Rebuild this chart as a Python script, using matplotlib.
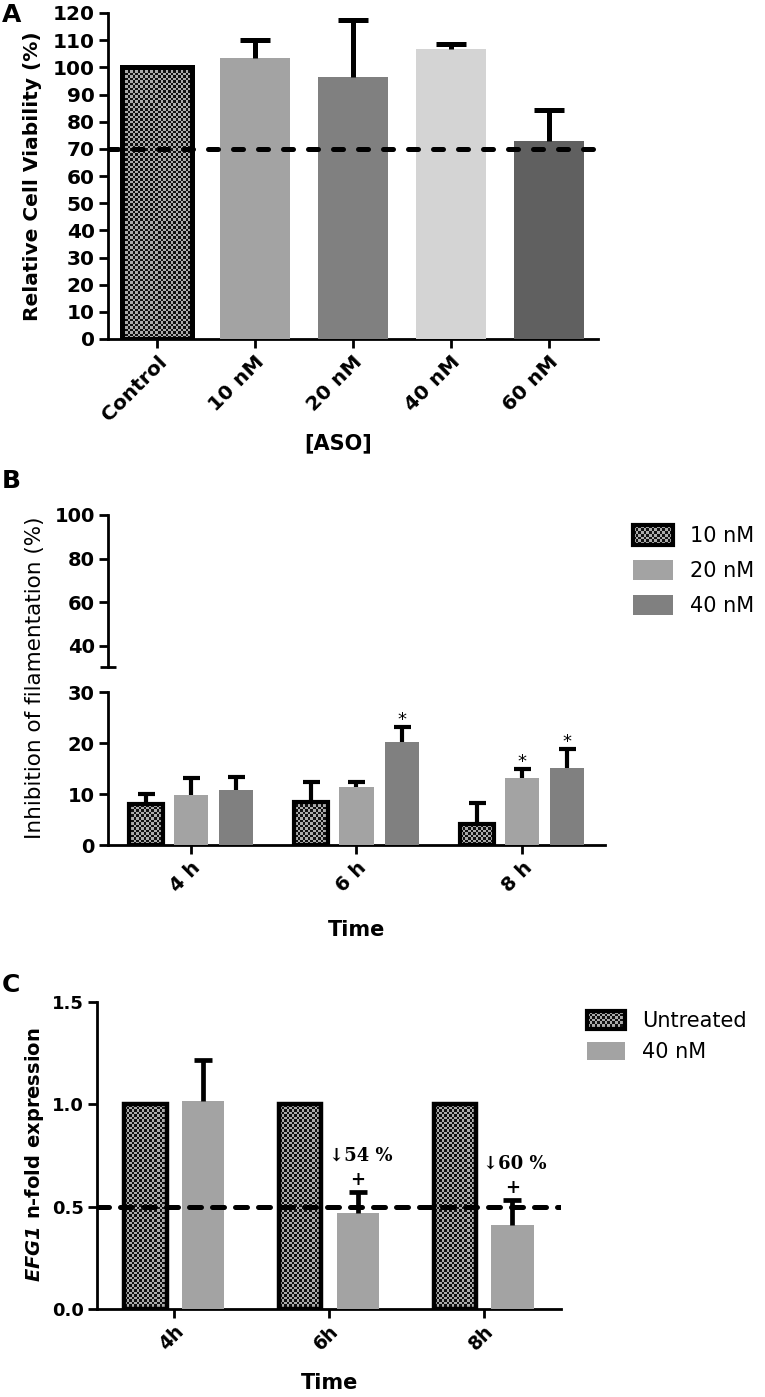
import numpy as np
import matplotlib
matplotlib.use("Agg")
import matplotlib.pyplot as plt
from matplotlib.colors import ListedColormap
from matplotlib.patches import Rectangle, Patch
from matplotlib.legend_handler import HandlerBase

plt.rcParams['font.family'] = ['DejaVu Sans']
plt.rcParams['mathtext.fontset'] = 'dejavusans'

# ---------------- Panel A data ----------------
a_categories = ['Control', '10 nM', '20 nM', '40 nM', '60 nM']
a_values = [100.0, 103.4, 96.4, 106.9, 72.9]
a_errors = [0.0, 6.8, 21.2, 1.6, 11.3]
a_colors = ['none', '#a3a3a3', '#808080', '#d4d4d4', '#606060']
a_threshold = 70
a_yticks = list(range(0, 121, 10))

# ---------------- Panel B data ----------------
b_times = ['4 h', '6 h', '8 h']
b_series = ['10 nM', '20 nM', '40 nM']
b_10 = [8.1, 8.5, 4.1]
b_10_err = [1.9, 3.9, 4.2]
b_20 = [9.9, 11.4, 13.2]
b_20_err = [3.2, 1.1, 1.7]
b_40 = [10.8, 20.3, 15.2]
b_40_err = [2.6, 2.9, 3.7]
b_sig_20 = [False, False, True]
b_sig_40 = [False, True, True]
b_colors = ['none', '#a3a3a3', '#808080']
b_yticks_low = [0, 10, 20, 30]
b_yticks_high = [40, 60, 80, 100]

# ---------------- Panel C data ----------------
c_times = ['4h', '6h', '8h']
c_series = ['Untreated', '40 nM']
c_untreated = [1.0, 1.0, 1.0]
c_40 = [1.018, 0.47, 0.41]
c_40_err = [0.20, 0.103, 0.123]
c_reduction = ['', '\u219354 %', '\u219360 %']
c_sig = [False, True, True]
c_threshold = 0.5
c_yticks = [0.0, 0.5, 1.0, 1.5]

W, H = 765, 1397
fig = plt.figure(figsize=(W / 100, H / 100), dpi=100)


def fx(p):
    return p / W


def fy(p):
    return 1 - p / H


def axes_px(l, t, r, b):
    return fig.add_axes([fx(l), fy(b), fx(r) - fx(l), fy(t) - fy(b)])


CHECK_CMAP = ListedColormap(['#101010', '#ababab'])


def checker_fill(ax, patches, cell=2.5):
    bb = ax.get_position()
    nx = max(2, int(round(bb.width * W / cell)))
    ny = max(2, int(round(bb.height * H / cell)))
    grid = np.add.outer(np.arange(ny), np.arange(nx)) % 2
    xl, yl = ax.get_xlim(), ax.get_ylim()
    for p in patches:
        im = ax.imshow(grid, extent=[xl[0], xl[1], yl[0], yl[1]], origin='lower',
                       aspect='auto', interpolation='nearest', cmap=CHECK_CMAP,
                       zorder=2.5)
        im.set_clip_path(p)
    ax.set_xlim(xl)
    ax.set_ylim(yl)


def upper_errors(ax, x, vals, errs, cap_px, lw):
    x = np.asarray(x, float)
    v = np.asarray(vals, float)
    e = np.asarray(errs, float)
    m = e > 0
    top = v + e
    ax.vlines(x[m], v[m], top[m], color='black', lw=lw, zorder=4)
    ax.plot(x[m], top[m], ls='none', marker='_', ms=cap_px * 0.72, mew=lw,
            color='black', zorder=4)


def style_axes(ax, spine_lw=2.0):
    for s in ('top', 'right'):
        ax.spines[s].set_visible(False)
    for s in ('left', 'bottom'):
        ax.spines[s].set_linewidth(spine_lw)
    ax.tick_params(axis='both', which='major', width=2.0, length=6.5,
                   color='black', pad=3)


class CheckerHandler(HandlerBase):
    def create_artists(self, legend, orig_handle, xdescent, ydescent, width,
                       height, fontsize, trans):
        arts = []
        x0, y0 = -xdescent, -ydescent
        cell = 1.8
        nx = max(2, int(width / cell))
        ny = max(2, int(height / cell))
        cw, ch = width / nx, height / ny
        arts.append(Rectangle((x0, y0), width, height, facecolor='#ababab',
                              edgecolor='none', transform=trans))
        for i in range(nx):
            for j in range(ny):
                if (i + j) % 2 == 0:
                    arts.append(Rectangle((x0 + i * cw, y0 + j * ch), cw, ch,
                                          facecolor='#101010', edgecolor='none',
                                          antialiased=False, transform=trans))
        arts.append(Rectangle((x0, y0), width, height, facecolor='none',
                              edgecolor='black', lw=3.0, transform=trans))
        return arts


# ======================= Panel A =======================
axA = axes_px(108, 13, 598, 339)
style_axes(axA)
xa = np.arange(len(a_categories))
barsA = axA.bar(xa, a_values, width=0.71, color=a_colors,
                edgecolor=['black'] + ['none'] * 4,
                linewidth=[3.6, 0, 0, 0, 0], zorder=3)
axA.set_xlim(-0.5, len(a_categories) - 0.5)
axA.set_ylim(0, 120)
checker_fill(axA, [barsA[0]])
upper_errors(axA, xa, a_values, a_errors, cap_px=30, lw=3.6)
axA.axhline(a_threshold, color='black', lw=3.6, dashes=(2.0, 3.0),
            dash_capstyle='round', zorder=5)
axA.set_yticks(a_yticks, [str(t) for t in a_yticks], fontsize=14.5,
               fontweight='bold')
axA.set_xticks(xa, a_categories, rotation=45, ha='right',
               rotation_mode='anchor', fontsize=14.5, fontweight='bold')
fig.text(fx(33), fy(176), 'Relative Cell Viability (%)', rotation=90,
         ha='center', va='center', fontsize=14.5, fontweight='bold')
fig.text(fx(338), fy(443), '[ASO]', ha='center', va='center', fontsize=15,
         fontweight='bold')

# ======================= Panel B =======================
axB = axes_px(108, 692.3, 605, 845.3)
axBt = axes_px(108, 515, 605, 667.5)
style_axes(axB)
style_axes(axBt)
axBt.spines['bottom'].set_visible(False)
xb = np.arange(len(b_times))
bw, off = 0.206, 0.273
bars10 = axB.bar(xb - off, b_10, width=bw, color='none', edgecolor='black',
                 linewidth=3.0, zorder=3, label=b_series[0])
bars20 = axB.bar(xb, b_20, width=bw, color=b_colors[1], edgecolor='none',
                 zorder=3, label=b_series[1])
bars40 = axB.bar(xb + off, b_40, width=bw, color=b_colors[2], edgecolor='none',
                 zorder=3, label=b_series[2])
for ax in (axB, axBt):
    ax.set_xlim(-0.5, len(b_times) - 0.5)
axB.set_ylim(0, 30)
axBt.set_ylim(30, 100)
checker_fill(axB, list(bars10))
upper_errors(axB, xb - off, b_10, b_10_err, cap_px=17, lw=3.0)
upper_errors(axB, xb, b_20, b_20_err, cap_px=17, lw=3.0)
upper_errors(axB, xb + off, b_40, b_40_err, cap_px=17, lw=3.0)
for xs, vals, errs, sig in ((xb, b_20, b_20_err, b_sig_20),
                            (xb + off, b_40, b_40_err, b_sig_40)):
    for xi, v, e, s in zip(xs, vals, errs, sig):
        if s:
            axB.annotate('*', xy=(xi, v + e), xytext=(0, 1.5),
                         textcoords='offset points', ha='center',
                         va='baseline', fontsize=13)
axB.set_yticks(b_yticks_low, [str(t) for t in b_yticks_low], fontsize=14,
               fontweight='bold')
axBt.set_yticks(b_yticks_high, [str(t) for t in b_yticks_high], fontsize=14,
                fontweight='bold')
axB.set_yticks([30], minor=True)
axBt.set_yticks([30], minor=True)
for ax in (axB, axBt):
    ax.tick_params(axis='y', which='minor', direction='inout', length=11.5,
                   width=2.0)
axBt.set_xticks([])
axB.set_xticks(xb, b_times, rotation=45, ha='right', rotation_mode='anchor',
               fontsize=14, fontweight='bold')
fig.text(fx(35), fy(678), 'Inhibition of filamentation (%)', rotation=90,
         ha='center', va='center', fontsize=15.5)
fig.text(fx(357), fy(930), 'Time', ha='center', va='center', fontsize=15,
         fontweight='bold')
handlesB = [Patch(facecolor='#ababab', edgecolor='black'),
            Patch(facecolor=b_colors[1], edgecolor='none'),
            Patch(facecolor=b_colors[2], edgecolor='none')]
axBt.legend(handlesB, b_series, loc='upper left',
            bbox_to_anchor=(fx(633), fy(525.5)), bbox_transform=fig.transFigure,
            frameon=False, fontsize=15, handlelength=1.92, handleheight=1.06,
            handletextpad=0.8, labelspacing=0.67, borderaxespad=0, borderpad=0,
            handler_map={handlesB[0]: CheckerHandler()})

# ======================= Panel C =======================
axC = axes_px(97, 1002, 561, 1309)
style_axes(axC)
xc = np.arange(len(c_times))
cw, coff = 0.273, 0.186
barsU = axC.bar(xc - coff, c_untreated, width=cw, color='none',
                edgecolor='black', linewidth=3.2, zorder=3)
barsC = axC.bar(xc + coff, c_40, width=cw, color='#a3a3a3', edgecolor='none',
                zorder=3)
axC.set_xlim(-0.5, len(c_times) - 0.5)
axC.set_ylim(0, 1.5)
checker_fill(axC, list(barsU))
upper_errors(axC, xc + coff, c_40, c_40_err, cap_px=18, lw=3.4)
axC.axhline(c_threshold, color='black', lw=3.6, dashes=(2.4, 2.2),
            dash_capstyle='round', zorder=5)
for xi, v, e, lab, s in zip(xc + coff, c_40, c_40_err, c_reduction, c_sig):
    if s:
        axC.annotate('+', xy=(xi, v + e), xytext=(0, 8.3),
                     textcoords='offset points', ha='center', va='center',
                     fontsize=13, fontweight='bold', family='DejaVu Serif')
    if lab:
        axC.annotate(lab, xy=(xi, v + e), xytext=(2, 26),
                     textcoords='offset points', ha='center', va='center',
                     fontsize=13, fontweight='bold', family='DejaVu Serif')
axC.set_yticks(c_yticks, ['%.1f' % t for t in c_yticks], fontsize=13,
               fontweight='bold')
axC.set_xticks(xc, c_times, rotation=45, ha='right', rotation_mode='anchor',
               fontsize=13.5, fontweight='bold')
fig.text(fx(35), fy(1155), r'$\mathbfit{EFG1}$ n-fold expression', rotation=90,
         ha='center', va='center', fontsize=14, fontweight='bold')
fig.text(fx(330), fy(1383), 'Time', ha='center', va='center', fontsize=15,
         fontweight='bold')
handlesC = [Patch(facecolor='#ababab', edgecolor='black'),
            Patch(facecolor='#a3a3a3', edgecolor='none')]
axC.legend(handlesC, c_series, loc='upper left',
           bbox_to_anchor=(fx(587), fy(1011)), bbox_transform=fig.transFigure,
           frameon=False, fontsize=15, handlelength=1.83, handleheight=0.96,
           handletextpad=0.8, labelspacing=0.53, borderaxespad=0, borderpad=0,
           handler_map={handlesC[0]: CheckerHandler()})

# panel letters
for letter, base in (('A', 21.7), ('B', 488.3), ('C', 992)):
    fig.text(fx(2), fy(base), letter, ha='left', va='baseline', fontsize=18,
             fontweight='bold')

fig.savefig('out.png', dpi=100)
